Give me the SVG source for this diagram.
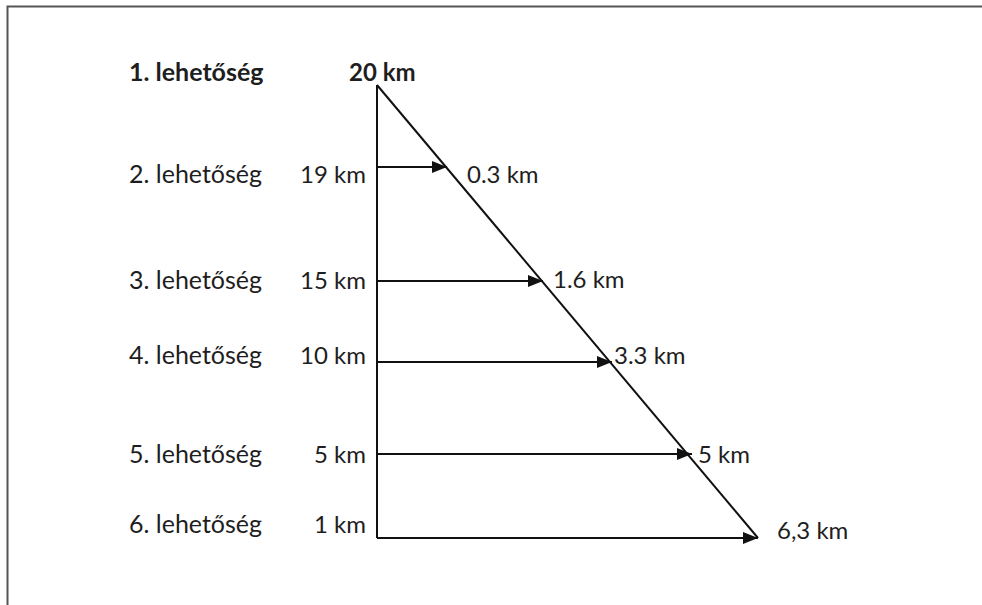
<svg xmlns="http://www.w3.org/2000/svg" width="982" height="605" viewBox="0 0 982 605">
<style>
.t{font-family:Lato,"Noto Sans",sans-serif;font-size:24px;fill:#1e1e1e}
.l{font-size:25px}
.b{font-weight:bold}
.e{text-anchor:end}
.ln{stroke:#111;stroke-width:2;fill:none}
</style>
<defs>
<marker id="ah" markerUnits="userSpaceOnUse" markerWidth="16" markerHeight="14" refX="15" refY="7" orient="auto">
<path d="M0,1 L15,7 L0,13 Z" fill="#111"/>
</marker>
</defs>
<rect width="982" height="605" fill="#fff"/>
<path d="M7.5,605 V6.5 H982" stroke="#555" stroke-width="2" fill="none"/>
<g id="labels-left">
<text class="t l b" x="129" y="81">1. lehetőség</text>
<text class="t l" x="129" y="183">2. lehetőség</text>
<text class="t l" x="129" y="289">3. lehetőség</text>
<text class="t l" x="129" y="364">4. lehetőség</text>
<text class="t l" x="129" y="463">5. lehetőség</text>
<text class="t l" x="129" y="533">6. lehetőség</text>
</g>
<g id="labels-km">
<text class="t b" x="349" y="81">20 km</text>
<text class="t e" x="366" y="183">19 km</text>
<text class="t e" x="366" y="289">15 km</text>
<text class="t e" x="366" y="364">10 km</text>
<text class="t e" x="366" y="463">5 km</text>
<text class="t e" x="366" y="533">1 km</text>
</g>
<g id="labels-right">
<text class="t" x="467" y="183">0.3 km</text>
<text class="t" x="553" y="288">1.6 km</text>
<text class="t" x="614" y="364">3.3 km</text>
<text class="t" x="698" y="463">5 km</text>
<text class="t" x="777" y="539">6,3 km</text>
</g>
<g id="connectors">
<line class="ln" x1="377" y1="85" x2="377" y2="538"/>
<line class="ln" x1="377" y1="85" x2="758" y2="538"/>
<line class="ln" x1="377" y1="167" x2="447" y2="167" marker-end="url(#ah)"/>
<line class="ln" x1="377" y1="281" x2="543" y2="281" marker-end="url(#ah)"/>
<line class="ln" x1="377" y1="362" x2="612" y2="362" marker-end="url(#ah)"/>
<line class="ln" x1="377" y1="454" x2="692" y2="454" marker-end="url(#ah)"/>
<line class="ln" x1="377" y1="538" x2="758" y2="538" marker-end="url(#ah)"/>
</g>
</svg>
